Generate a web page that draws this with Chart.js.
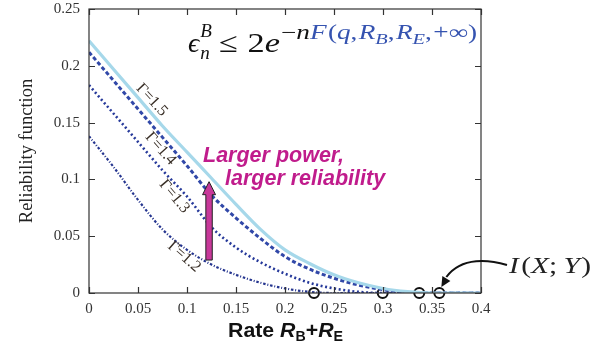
<!DOCTYPE html>
<html>
<head>
<meta charset="utf-8">
<script src="https://cdn.jsdelivr.net/npm/chart.js@4.4.0/dist/chart.umd.min.js"></script>
<style>
html,body{margin:0;padding:0;background:#fff;}
#wrap{width:615px;height:347px;position:relative;}
</style>
</head>
<body>
<div id="wrap"><canvas id="c" width="615" height="347"></canvas></div>
<script>
// ---- data ----
const rates = [0,0.025,0.05,0.075,0.1,0.125,0.15,0.175,0.2,0.225,0.25,0.275,0.3,0.325,0.35,0.375,0.4];
const gamma15 = [0.222,0.197,0.172,0.147,0.124,0.101,0.078,0.056,0.038,0.026,0.016,0.009,0.004,0.0012,0,0,0];
const gamma14 = [0.212,0.187,0.162,0.137,0.112,0.086,0.066,0.048,0.032,0.021,0.013,0.007,0.003,0.0005,0,0,0];
const gamma13 = [0.183,0.158,0.133,0.108,0.085,0.058,0.040,0.027,0.017,0.009,0.004,0.001,0,0,0,0,0];
const gamma12 = [0.138,0.111,0.082,0.056,0.038,0.025,0.016,0.009,0.004,0.001,0,0,0,0,0,0,0];
const mutualInfoRates = [0.2296,0.2997,0.337,0.3575];
const xTickLabels = ['0','0.05','0.1','0.15','0.2','0.25','0.3','0.35','0.4'];
const yTickLabels = ['0','0.05','0.1','0.15','0.2','0.25'];
const seriesLabels = ['Γ = 1.5','Γ = 1.4','Γ = 1.3','Γ = 1.2'];

const pts = arr => rates.map((r,i)=>({x:r,y:arr[i]}));

const SERIF = '"Liberation Serif","DejaVu Serif",serif';
const SANS = '"Liberation Sans",Arial,sans-serif';
const MAGENTA = '#c01c8c';

function runsWidth(ctx, runs){
  let w = 0;
  for(const r of runs){ ctx.font = r.font; w += ctx.measureText(r.t).width + (r.gap||0); }
  return w;
}
// draw runs starting at x, optionally stretched horizontally to a target width
function drawRuns(ctx, x, baseline, runs, targetW){
  const w = runsWidth(ctx, runs);
  const sx = targetW ? targetW / w : 1;
  ctx.save();
  ctx.translate(x, baseline);
  ctx.scale(sx, 1);
  let cx = 0;
  for(const r of runs){
    ctx.font = r.font;
    ctx.fillStyle = r.color || '#111';
    ctx.fillText(r.t, cx, (r.dy||0));
    cx += ctx.measureText(r.t).width + (r.gap||0);
  }
  ctx.restore();
  return x + cx*sx;
}

const decor = {
  id:'decor',
  afterDraw(chart){
    const ctx = chart.ctx;
    const xs = chart.scales.x, ys = chart.scales.y;
    const a = chart.chartArea;
    ctx.save();
    // frame
    ctx.strokeStyle = '#333';
    ctx.lineWidth = 1.2;
    ctx.strokeRect(a.left, a.top, a.right-a.left, a.bottom-a.top);
    // inward ticks
    ctx.beginPath();
    xs.ticks.forEach(t=>{
      const px = Math.round(xs.getPixelForValue(t.value))+0.5;
      ctx.moveTo(px,a.bottom); ctx.lineTo(px,a.bottom-6);
      ctx.moveTo(px,a.top); ctx.lineTo(px,a.top+6);
    });
    ys.ticks.forEach(t=>{
      const py = Math.round(ys.getPixelForValue(t.value))+0.5;
      ctx.moveTo(a.left,py); ctx.lineTo(a.left+6,py);
      ctx.moveTo(a.right,py); ctx.lineTo(a.right-6,py);
    });
    ctx.stroke();

    // y-axis title
    ctx.save();
    ctx.translate(27, (a.top+a.bottom)/2);
    ctx.rotate(-Math.PI/2);
    ctx.font = '18.5px '+SERIF;
    ctx.fillStyle = '#222';
    ctx.textAlign = 'center';
    ctx.textBaseline = 'middle';
    ctx.fillText('Reliability function',0,0);
    ctx.restore();

    ctx.textBaseline = 'alphabetic';
    ctx.textAlign = 'left';
    // x-axis title: Rate R_B + R_E
    drawRuns(ctx, 228, 337, [
      {t:'Rate ', font:'bold 21px '+SANS},
      {t:'R', font:'italic bold 21px '+SANS},
      {t:'B', font:'bold 14px '+SANS, dy:4},
      {t:'+', font:'bold 21px '+SANS},
      {t:'R', font:'italic bold 21px '+SANS},
      {t:'E', font:'bold 14px '+SANS, dy:4}
    ], 115);

    // formula
    const BLUE = '#3553b0';
    let fx = 188;
    ctx.font = 'italic 28px '+SERIF; ctx.fillStyle='#111';
    ctx.fillText('ϵ', fx, 52);
    const ew = ctx.measureText('ϵ').width;
    ctx.font = 'italic 19px '+SERIF;
    ctx.fillText('B', fx+ew+1, 37);
    ctx.fillText('n', fx+ew+1, 59);
    fx = fx+ew+1+ctx.measureText('B').width+7;
    drawRuns(ctx, fx, 52, [
      {t:'≤', font:'28px '+SERIF, gap:8},
      {t:'2', font:'28px '+SERIF},
      {t:'e', font:'italic 28px '+SERIF}
    ], 280-fx);
    drawRuns(ctx, 281, 39, [
      {t:'−', font:'20px '+SERIF},
      {t:'n', font:'italic 20px '+SERIF},
      {t:'F', font:'italic 20px '+SERIF, color:BLUE, gap:1},
      {t:'(', font:'20px '+SERIF, color:BLUE},
      {t:'q', font:'italic 20px '+SERIF, color:BLUE},
      {t:',', font:'20px '+SERIF, color:BLUE, gap:1},
      {t:'R', font:'italic 20px '+SERIF, color:BLUE},
      {t:'B', font:'italic 15px '+SERIF, color:BLUE, dy:5},
      {t:',', font:'20px '+SERIF, color:BLUE, gap:1},
      {t:'R', font:'italic 20px '+SERIF, color:BLUE},
      {t:'E', font:'italic 15px '+SERIF, color:BLUE, dy:5},
      {t:',', font:'20px '+SERIF, color:BLUE, gap:1},
      {t:'+∞)', font:'20px '+SERIF, color:BLUE}
    ], 196);

    // Gamma labels along curves
    const lab = [[0.064,0.170,0.82],[0.073,0.127,0.84],[0.087,0.085,0.87],[0.097,0.032,0.72]];
    lab.forEach((p,i)=>{
      ctx.save();
      ctx.translate(xs.getPixelForValue(p[0]), ys.getPixelForValue(p[1]));
      ctx.rotate(p[2]);
      ctx.font = '16px '+SERIF;
      ctx.fillStyle = '#3a3028';
      ctx.textAlign = 'center';
      ctx.textBaseline = 'middle';
      ctx.fillText(seriesLabels[i].replace(/ /g,''),0,0);
      ctx.restore();
    });

    // Magenta arrow
    const axp = xs.getPixelForValue(0.1225);
    const yTip = ys.getPixelForValue(0.098), yBot = ys.getPixelForValue(0.029);
    const sw = 3.2, hw = 6.5, hh = 13;
    ctx.beginPath();
    ctx.moveTo(axp-sw, yBot);
    ctx.lineTo(axp-sw, yTip+hh);
    ctx.lineTo(axp-hw, yTip+hh);
    ctx.lineTo(axp, yTip);
    ctx.lineTo(axp+hw, yTip+hh);
    ctx.lineTo(axp+sw, yTip+hh);
    ctx.lineTo(axp+sw, yBot);
    ctx.closePath();
    ctx.fillStyle = '#c8389a';
    ctx.fill();
    ctx.strokeStyle = '#222'; ctx.lineWidth = 1;
    ctx.stroke();

    // Magenta text
    ctx.fillStyle = MAGENTA;
    ctx.font = 'italic bold 21.5px '+SANS;
    ctx.fillText('Larger power,', 203, 162);
    ctx.fillText('larger reliability', 225, 185);

    // I(X;Y) label and curved arrow
    drawRuns(ctx, 509, 273, [
      {t:'I', font:'italic 23px '+SERIF, color:'#222', gap:2},
      {t:'(', font:'23px '+SERIF, color:'#222'},
      {t:'X', font:'italic 23px '+SERIF, color:'#222'},
      {t:';', font:'23px '+SERIF, color:'#222', gap:5},
      {t:'Y', font:'italic 23px '+SERIF, color:'#222', gap:1},
      {t:')', font:'23px '+SERIF, color:'#222'}
    ], 82);
    const tipX = xs.getPixelForValue(0.3575)+2, tipY = ys.getPixelForValue(0)-6;
    ctx.beginPath();
    ctx.moveTo(507, 265);
    ctx.bezierCurveTo(490, 260, 462, 256, tipX+5, tipY-10);
    ctx.strokeStyle = '#111'; ctx.lineWidth = 2;
    ctx.stroke();
    ctx.beginPath();
    ctx.moveTo(tipX, tipY);
    ctx.lineTo(tipX+1, tipY-11);
    ctx.lineTo(tipX+9, tipY-6);
    ctx.closePath();
    ctx.fillStyle = '#111';
    ctx.fill();
    ctx.restore();
  }
};

new Chart(document.getElementById('c'), {
  type:'line',
  data:{
    datasets:[
      {label:seriesLabels[0], data:pts(gamma15), borderColor:'#a6d8ea', borderWidth:3.2, pointRadius:0, cubicInterpolationMode:'monotone'},
      {label:seriesLabels[1], data:pts(gamma14), borderColor:'#3148a8', borderWidth:3, borderDash:[4,2.5], pointRadius:0, cubicInterpolationMode:'monotone'},
      {label:seriesLabels[2], data:pts(gamma13), borderColor:'#26399a', borderWidth:2.6, borderDash:[2,2.6], pointRadius:0, cubicInterpolationMode:'monotone'},
      {label:seriesLabels[3], data:pts(gamma12), borderColor:'#25358f', borderWidth:2.2, borderDash:[2.5,1.8,1,1.8], pointRadius:0, cubicInterpolationMode:'monotone'},
      {type:'scatter', label:'I(X;Y)', data:mutualInfoRates.map(r=>({x:r,y:0})), pointRadius:5, pointBorderWidth:2, borderColor:'#111', backgroundColor:'rgba(0,0,0,0)', pointStyle:'circle', clip:false}
    ]
  },
  options:{
    responsive:false, animation:false,
    layout:{padding:{left:0,right:134,top:9,bottom:0}},
    plugins:{legend:{display:false}, tooltip:{enabled:false}},
    scales:{
      x:{type:'linear', min:0, max:0.4,
        ticks:{stepSize:0.05, padding:7, color:'#333', font:{family:SERIF, size:15},
          callback:(v,i)=>xTickLabels[i]},
        grid:{display:false, drawTicks:false}, border:{display:false},
        afterFit:s=>{s.height=54; s.paddingLeft=0; s.paddingRight=0;}
      },
      y:{min:0, max:0.25,
        ticks:{stepSize:0.05, padding:9, color:'#333', font:{family:SERIF, size:15},
          callback:(v,i)=>yTickLabels[i]},
        grid:{display:false, drawTicks:false}, border:{display:false},
        afterFit:s=>{s.width=89; s.paddingTop=0; s.paddingBottom=0;}
      }
    }
  },
  plugins:[decor]
});
</script>
</body>
</html>
